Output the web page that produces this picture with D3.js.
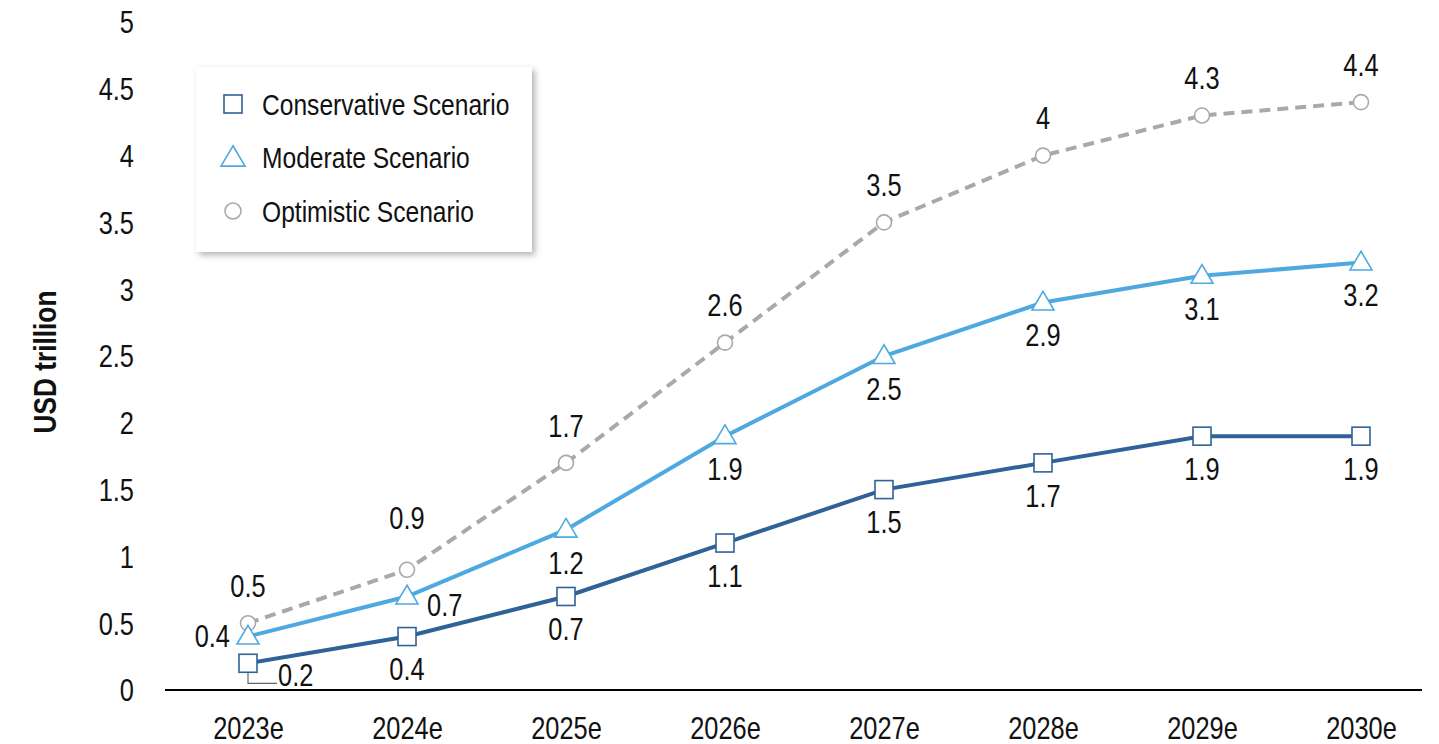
<!DOCTYPE html>
<html><head><meta charset="utf-8">
<script src="https://cdn.jsdelivr.net/npm/d3@7"></script>
<style>
body{margin:0;background:#fff;}
svg text{font-family:"Liberation Sans Narrow","Liberation Sans","Arial",sans-serif;fill:#111;}
</style></head>
<body><svg id="c" width="1439" height="744"></svg>
<script>
const categories = ["2023e","2024e","2025e","2026e","2027e","2028e","2029e","2030e"];
const conservative = [0.2,0.4,0.7,1.1,1.5,1.7,1.9,1.9];
const moderate     = [0.4,0.7,1.2,1.9,2.5,2.9,3.1,3.2];
const optimistic   = [0.5,0.9,1.7,2.6,3.5,4.0,4.3,4.4];
const yTicks = [0,0.5,1,1.5,2,2.5,3,3.5,4,4.5,5];
const seriesNames = ["Conservative Scenario","Moderate Scenario","Optimistic Scenario"];
// label placement per point
const consPlace = ["leader","below","below","below","below","below","below","below"];
const modPlace  = ["left","right","below","below","below","below","below","below"];
const optPlace  = ["above","above2","above","above","above","above","above","above"];

const SX = 0.82; // horizontal condensing to mimic a narrow font
const svg = d3.select("#c");
const x = d3.scalePoint().domain(categories).range([248,1361]);
const y = d3.scaleLinear().domain([0,5]).range([690,22]);

const fontSize = 31;

function txt(g, tx, ty, str, anchor, size, weight){
  return g.append("text").attr("transform",`translate(${tx},${ty}) scale(${SX},1)`)
    .attr("text-anchor",anchor||"middle").attr("dy","0.35em")
    .style("font-size",size+"px").style("font-weight",weight||"normal").text(str);
}

// y tick labels (no axis line)
const yAxis = d3.axisLeft(y).tickValues(yTicks).tickSize(0).tickPadding(0).tickFormat(d=>String(d));
const yg = svg.append("g").attr("transform","translate(134,0)").call(yAxis);
yg.select(".domain").remove();
yg.selectAll("text").style("font-size",fontSize+"px").attr("font-family",null).attr("fill",null)
  .attr("x",0).attr("dy","0.35em").attr("transform",`scale(${SX},1)`);

// x axis
const xAxis = d3.axisBottom(x).tickSize(0).tickPadding(0);
const xg = svg.append("g").attr("transform","translate(0,690)").call(xAxis);
xg.select(".domain").remove();
xg.selectAll("text").style("font-size",fontSize+"px").attr("font-family",null).attr("fill",null)
  .attr("y",38).attr("dy","0.35em").attr("transform",`scale(${SX},1)`);
svg.append("line").attr("x1",165).attr("x2",1422).attr("y1",690).attr("y2",690)
  .attr("stroke","#000").attr("stroke-width",2);

// y axis title
svg.append("text").attr("transform",`translate(45,362) rotate(-90) scale(${SX},1)`)
  .attr("text-anchor","middle").attr("dy","0.35em").style("font-size","32px").style("font-weight","bold").text("USD trillion");

const colors = {c:"#2F6298", m:"#4EA9E0", o:"#A9A9A9"};
const line = d3.line().x((d,i)=>x(categories[i])).y(d=>y(d));

// lines
svg.append("path").datum(optimistic).attr("d",line).attr("fill","none")
  .attr("stroke",colors.o).attr("stroke-width",4).attr("stroke-dasharray","11,7");
svg.append("path").datum(moderate).attr("d",line).attr("fill","none")
  .attr("stroke",colors.m).attr("stroke-width",4);
svg.append("path").datum(conservative).attr("d",line).attr("fill","none")
  .attr("stroke",colors.c).attr("stroke-width",4);

// leader line for 0.2
const lx = x(categories[0]), ly = y(conservative[0]);
svg.append("path").attr("d",`M${lx},${ly+2}V${ly+20}H${lx+29}`).attr("fill","none")
  .attr("stroke","#666").attr("stroke-width",1.2);

function square(g,cx,cy,s,col){g.append("rect").attr("x",cx-s/2).attr("y",cy-s/2).attr("width",s).attr("height",s)
  .attr("fill","#fff").attr("stroke",col).attr("stroke-width",1.6);}
function tri(g,cx,cy,s,col){const h=s*0.85;g.append("path").attr("d",`M${cx},${cy-h*0.6}L${cx+s/2},${cy+h*0.4}L${cx-s/2},${cy+h*0.4}Z`)
  .attr("fill","#fff").attr("stroke",col).attr("stroke-width",1.6);}
function circ(g,cx,cy,r,col){g.append("circle").attr("cx",cx).attr("cy",cy).attr("r",r)
  .attr("fill","#fff").attr("stroke",col).attr("stroke-width",1.6);}

const mk = svg.append("g");
optimistic.forEach((v,i)=>circ(mk,x(categories[i]),y(v),7.5,colors.o));
moderate.forEach((v,i)=>tri(mk,x(categories[i]),y(v),22,colors.m));
conservative.forEach((v,i)=>square(mk,x(categories[i]),y(v),18,colors.c));

// data labels
const lab = svg.append("g");
function addLabel(cx,cy,v,place){
  let tx=cx, ty=cy, anchor="middle";
  if(place==="below"){ty=cy+33;}
  else if(place==="above"){ty=cy-37;}
  else if(place==="above2"){ty=cy-52;}
  else if(place==="left"){tx=cx-18;anchor="end";}
  else if(place==="right"){tx=cx+20;anchor="start";ty=cy+9;}
  else if(place==="leader"){tx=cx+30;anchor="start";ty=cy+12;}
  txt(lab,tx,ty,String(v),anchor,fontSize);
}
conservative.forEach((v,i)=>addLabel(x(categories[i]),y(v),v,consPlace[i]));
moderate.forEach((v,i)=>addLabel(x(categories[i]),y(v),v,modPlace[i]));
optimistic.forEach((v,i)=>addLabel(x(categories[i]),y(v),v,optPlace[i]));

// legend
const defs = svg.append("defs");
const f = defs.append("filter").attr("id","sh").attr("x","-10%").attr("y","-10%").attr("width","130%").attr("height","130%");
f.append("feDropShadow").attr("dx",3).attr("dy",3).attr("stdDeviation",3).attr("flood-color","#000").attr("flood-opacity",0.3);
const lg = svg.append("g");
lg.append("rect").attr("x",196).attr("y",67).attr("width",336).attr("height",185).attr("fill","#fff").attr("filter","url(#sh)");
const rows=[104,157,211];
square(lg,233,rows[0],18,colors.c);
tri(lg,233,rows[1]+1,24,colors.m);
circ(lg,233,rows[2],8,colors.o);
seriesNames.forEach((n,i)=>txt(lg,262,rows[i],n,"start",30));
</script></body></html>
